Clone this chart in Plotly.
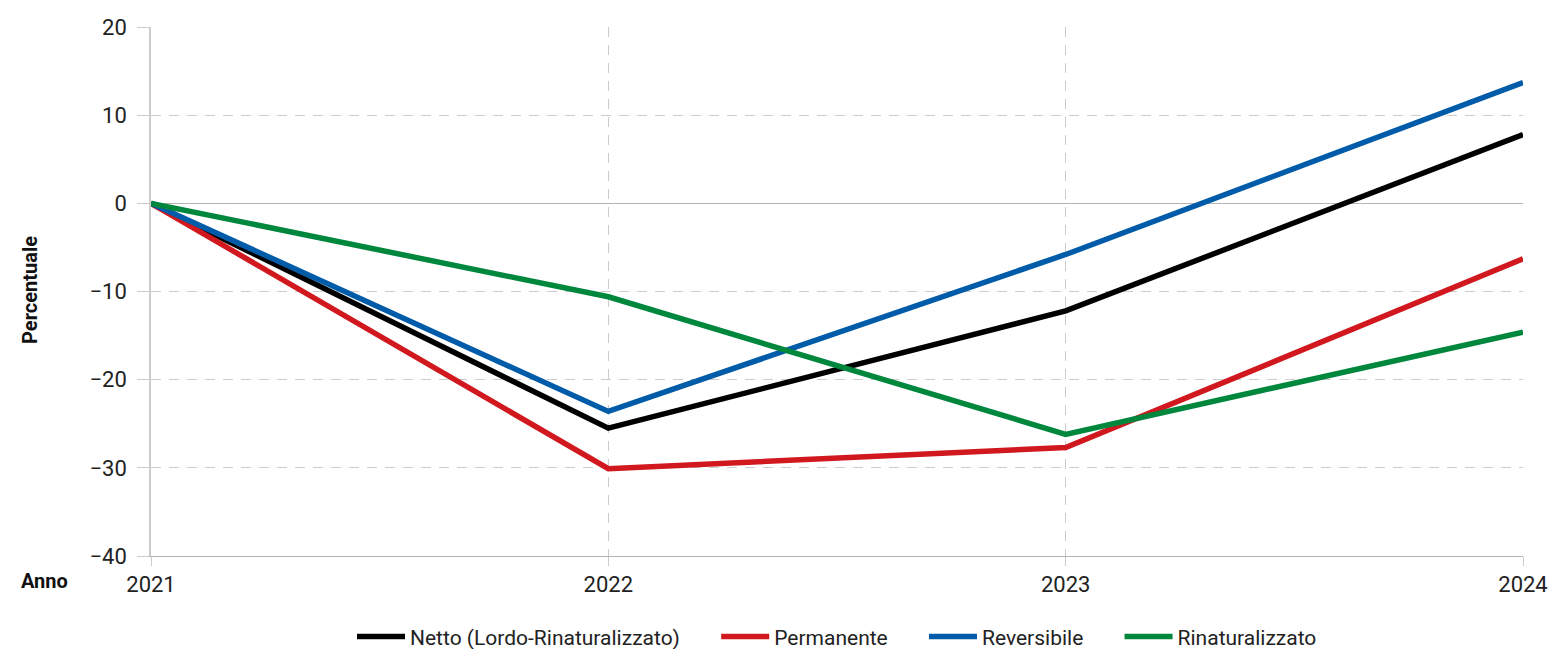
import plotly.graph_objects as go

anni = [2021, 2022, 2023, 2024]
netto = [0, -25.5, -12.2, 7.8]
permanente = [0, -30.1, -27.7, -6.3]
reversibile = [0, -23.6, -5.8, 13.7]
rinaturalizzato = [0, -10.6, -26.2, -14.6]

serie = [
    ("Netto (Lordo-Rinaturalizzato)", netto, "#000000"),
    ("Permanente", permanente, "#d0181e"),
    ("Reversibile", reversibile, "#005ca8"),
    ("Rinaturalizzato", rinaturalizzato, "#00873e"),
]

FONT = "Roboto, Open Sans, sans-serif"
GRID = "#cccccc"
AXIS = "#b4b4b4"
PAD = "\u00a0" * 6

fig = go.Figure()
for i, (nome, vals, col) in enumerate(serie):
    label = nome + (PAD if i < len(serie) - 1 else "")
    fig.add_trace(go.Scatter(x=anni, y=vals, name=label, mode="lines",
                             line=dict(color=col, width=5.5)))

fig.update_layout(
    width=1551, height=649,
    margin=dict(l=151, r=28, t=27, b=93, autoexpand=False),
    paper_bgcolor="white", plot_bgcolor="white",
    font=dict(family=FONT, size=20, color="#222222"),
    showlegend=True,
    legend=dict(orientation="h", x=0.5, xanchor="center", y=-0.153, yanchor="middle",
                font=dict(size=21, color="#222222"), itemwidth=48,
                tracegroupgap=0),
    xaxis=dict(range=[2021, 2024], tickvals=anni, ticktext=[str(a) for a in anni],
               showgrid=True, gridcolor=GRID, griddash="10px,8px", gridwidth=1,
               showline=True, linecolor=AXIS, linewidth=1, zeroline=False,
               ticks="outside", ticklen=9, tickcolor=GRID,
               tickfont=dict(size=22, color="#222222")),
    yaxis=dict(range=[-40, 20], tickvals=[-40, -30, -20, -10, 0, 10, 20],
               showgrid=True, gridcolor=GRID, griddash="10px,8px", gridwidth=1,
               zeroline=True, zerolinecolor=AXIS, zerolinewidth=1,
               showline=True, linecolor=GRID, linewidth=1.5,
               ticks="outside", ticklen=12, tickcolor=GRID,
               ticklabelstandoff=6,
               tickfont=dict(size=22, color="#222222")),
)

fig.add_annotation(text="<b>Percentuale</b>", xref="paper", yref="paper",
                   x=-0.0882, y=0.503, textangle=-90, showarrow=False,
                   font=dict(size=20, color="#111111", family=FONT),
                   xanchor="center", yanchor="middle")
fig.add_annotation(text="<b>Anno</b>", xref="paper", yref="paper",
                   x=-0.0962, y=-0.047, showarrow=False,
                   font=dict(size=20, color="#111111", family=FONT),
                   xanchor="left", yanchor="middle")

fig.write_html("out.html",
               config={"displayModeBar": False},
               post_script="document.body.style.margin='0';document.body.style.overflow='hidden';")
